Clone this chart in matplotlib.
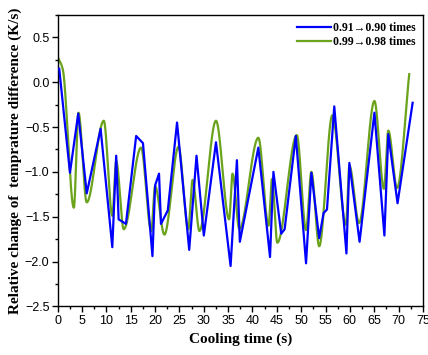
import numpy as np
import matplotlib
matplotlib.use("Agg")
import matplotlib.pyplot as plt
from matplotlib.ticker import MultipleLocator

# Series 1: 0.91 -> 0.90 times (piecewise linear)
t_blue = [0.3, 2.5, 4.2, 5.95, 8.8, 11.2, 12.0, 12.5, 14.0, 16.1, 17.5, 19.45, 20.0, 20.8,
          21.2, 22.6, 24.5, 27.0, 28.5, 30.0, 32.5, 35.5, 36.8, 37.4, 41.2, 43.6, 44.3,
          45.9, 46.6, 48.9, 51.0, 52.1, 53.7, 54.6, 55.3, 56.8, 59.3, 59.9, 62.0, 65.05,
          67.1, 67.9, 69.8, 72.9]
v_blue = [0.15, -1.01, -0.35, -1.24, -0.52, -1.84, -0.82, -1.53, -1.58, -0.60, -0.68,
          -1.94, -1.15, -1.02, -1.58, -1.43, -0.45, -1.87, -0.82, -1.71, -0.67, -2.05,
          -0.87, -1.78, -0.73, -1.95, -1.00, -1.69, -1.64, -0.60, -2.02, -1.01, -1.74,
          -1.46, -1.42, -0.27, -1.91, -0.90, -1.78, -0.34, -1.71, -0.58, -1.35, -0.23]

# Series 2: 0.99 -> 0.98 times (smooth curve)
t_green = [0.0, 1.0, 3.3, 4.25, 5.95, 9.45, 11.2, 12.0, 13.55, 17.1, 19.2, 20.0, 21.9,
           24.8, 26.8, 27.7, 29.1, 32.5, 35.2, 35.9, 37.3, 41.2, 43.3, 44.0, 45.1, 49.1,
           51.0, 52.1, 53.7, 56.4, 59.2, 59.9, 61.9, 65.05, 67.0, 67.9, 69.7, 72.2]
v_green = [0.28, 0.15, -1.40, -0.34, -1.34, -0.43, -1.49, -0.88, -1.64, -0.73, -1.66,
           -1.16, -1.70, -0.72, -1.64, -1.09, -1.66, -0.43, -1.53, -1.02, -1.64, -0.62,
           -1.60, -1.08, -1.79, -0.59, -1.65, -1.00, -1.83, -0.37, -1.59, -0.93, -1.57,
           -0.21, -1.19, -0.54, -1.18, 0.09]

labels = ["0.91\u21920.90 times", "0.99\u21920.98 times"]


def pchip(x, y, xn):
    x = np.asarray(x, float)
    y = np.asarray(y, float)
    h = np.diff(x)
    d = np.diff(y) / h
    n = len(x)
    m = np.zeros(n)
    for k in range(1, n - 1):
        if d[k - 1] * d[k] <= 0:
            m[k] = 0.0
        else:
            w1 = 2 * h[k] + h[k - 1]
            w2 = h[k] + 2 * h[k - 1]
            m[k] = (w1 + w2) / (w1 / d[k - 1] + w2 / d[k])
    m[0] = d[0]
    m[-1] = d[-1]
    idx = np.clip(np.searchsorted(x, xn) - 1, 0, n - 2)
    hh = h[idx]
    s = (xn - x[idx]) / hh
    h00 = 2 * s**3 - 3 * s**2 + 1
    h10 = s**3 - 2 * s**2 + s
    h01 = -2 * s**3 + 3 * s**2
    h11 = s**3 - s**2
    return h00 * y[idx] + h10 * hh * m[idx] + h01 * y[idx + 1] + h11 * hh * m[idx + 1]


plt.rcParams['font.family'] = ['Liberation Sans', 'DejaVu Sans']

fig = plt.figure(figsize=(4.28, 3.55), dpi=100)
ax = fig.add_axes([0.135, 0.137, 0.853, 0.821])

ax.plot(t_blue, v_blue, color='#0000FF', lw=1.6, label=labels[0], zorder=3)
tg = np.linspace(t_green[0], t_green[-1], 2000)
ax.plot(tg, pchip(t_green, v_green, tg), color='#6BA31C', lw=1.6, label=labels[1], zorder=2)

ax.set_xlim(0, 75)
ax.set_ylim(-2.5, 0.75)
ax.xaxis.set_major_locator(MultipleLocator(5))
ax.xaxis.set_minor_locator(MultipleLocator(2.5))
ax.yaxis.set_major_locator(MultipleLocator(0.5))
ax.yaxis.set_minor_locator(MultipleLocator(0.25))
ax.tick_params(which='major', length=4, width=1, labelsize=9, pad=2)
ax.tick_params(which='minor', length=2, width=1)
for s in ax.spines.values():
    s.set_linewidth(1.0)

ax.set_xlabel("Cooling time (s)", family=['Liberation Serif', 'DejaVu Serif'],
              fontweight='bold', fontsize=11)
ax.set_ylabel("Relative change of  temprature difference (K/s)",
              family=['Liberation Serif', 'DejaVu Serif'], fontweight='bold', fontsize=11,
              labelpad=2)

leg = ax.legend(loc='upper right', frameon=False,
                prop={'family': ['Liberation Serif', 'DejaVu Serif'], 'weight': 'bold', 'size': 8.5},
                handlelength=2.9, handletextpad=0.2, borderaxespad=0.2, labelspacing=0.15)

fig.savefig("out.png", dpi=100)
